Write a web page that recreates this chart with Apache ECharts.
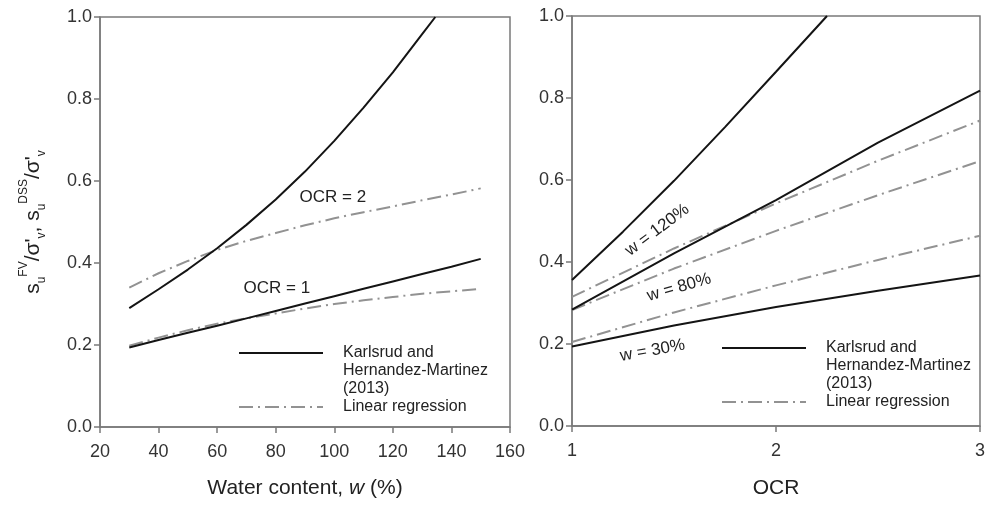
<!DOCTYPE html>
<html>
<head>
<meta charset="utf-8">
<script src="https://cdn.jsdelivr.net/npm/echarts@6/dist/echarts.min.js"></script>
<style>
  html, body { margin: 0; padding: 0; background: #fff; }
  #chart { width: 988px; height: 508px; }
</style>
</head>
<body>
<div id="chart"></div>
<script>
// left panel: water content w (%)
const wLeft = [30, 40, 50, 60, 70, 80, 90, 100, 110, 120, 130, 140, 150];
const khOcr1 = [0.194, 0.212, 0.230, 0.247, 0.265, 0.283, 0.301, 0.319, 0.337, 0.355, 0.373, 0.391, 0.410];
const regOcr1 = [0.198, 0.218, 0.236, 0.252, 0.265, 0.277, 0.289, 0.300, 0.309, 0.317, 0.325, 0.331, 0.337];
const regOcr2 = [0.340, 0.375, 0.405, 0.432, 0.454, 0.473, 0.492, 0.509, 0.524, 0.538, 0.553, 0.567, 0.582];
const wLeftOcr2 = [30, 40, 50, 60, 70, 80, 90, 100, 110, 120, 130, 134.5];
const khOcr2 = [0.290, 0.336, 0.384, 0.436, 0.493, 0.555, 0.623, 0.698, 0.779, 0.865, 0.958, 1.0];

// right panel: OCR
const ocrPts = [1, 1.5, 2, 2.5, 3];
const khW30 = [0.194, 0.245, 0.290, 0.330, 0.367];
const khW80 = [0.284, 0.421, 0.551, 0.691, 0.818];
const ocrPtsW120 = [1, 1.25, 1.5, 1.75, 2, 2.25];
const khW120 = [0.356, 0.474, 0.598, 0.729, 0.864, 1.0];
const regW120 = [0.315, 0.433, 0.543, 0.647, 0.745];
const regW80 = [0.283, 0.384, 0.476, 0.563, 0.646];
const regW30 = [0.205, 0.277, 0.343, 0.405, 0.464];

const solidName = "Karlsrud and\nHernandez-Martinez\n(2013)";
const dashName = "Linear regression";

const axisGray = "#7a7a7a";
const solidColor = "#141414";
const dashColor = "#929292";
const dashPattern = [14, 5, 2, 5];
const font = "Liberation Sans, Arial, sans-serif";

const pairs = (xs, ys) => xs.map((x, i) => [x, ys[i]]);

// text label on a curve, placed in data coords
const curveLabel = (text, coord, rotate) => ({
  symbol: "circle",
  symbolSize: 1,
  itemStyle: { color: "rgba(0,0,0,0)" },
  label: {
    show: true, position: "inside", formatter: text, rotate: rotate || 0,
    color: "#222", fontSize: 17, fontFamily: font
  },
  data: [{ coord: coord }]
});

const solid = (xi, yi, data, mark) => ({
  name: solidName, type: "line", xAxisIndex: xi, yAxisIndex: yi,
  data: data, symbol: "none", smooth: false,
  lineStyle: { color: solidColor, width: 2 }, itemStyle: { color: solidColor },
  markPoint: mark, z: 3
});
const dashed = (xi, yi, data) => ({
  name: dashName, type: "line", xAxisIndex: xi, yAxisIndex: yi,
  data: data, symbol: "none", smooth: false,
  lineStyle: { color: dashColor, width: 2, type: dashPattern },
  itemStyle: { color: dashColor }, z: 2
});

const axisCommon = {
  axisLine: { show: true, lineStyle: { color: axisGray, width: 1.5 } },
  axisTick: { show: true, inside: false, length: 6, lineStyle: { color: axisGray, width: 1.5 } },
  splitLine: { show: false },
  axisLabel: { color: "#333", fontSize: 18, fontFamily: font }
};

const legendCommon = {
  orient: "vertical", itemWidth: 84, itemHeight: 14, padding: 0, itemGap: 0,
  selectedMode: false, itemStyle: { opacity: 0 }
};
const legendText = { fontSize: 16, fontFamily: font, color: "#222", lineHeight: 18, padding: [0, 0, 0, 15] };

const yName = "{m|s}{sb|u}{sp|FV}{m|/σ'}{sb|v}{m|, s}{sb|u}{sp|DSS}{m|/σ'}{sb|v}";

const option = {
  animation: false,
  backgroundColor: "#fff",
  grid: [
    { left: 100, top: 17, width: 410, height: 410, show: true, borderColor: axisGray, borderWidth: 1.5 },
    { left: 572, top: 16, width: 410, height: 410, show: true, borderColor: axisGray, borderWidth: 1.5 }
  ],
  xAxis: [
    Object.assign({}, axisCommon, {
      gridIndex: 0, type: "value", min: 20, max: 160, interval: 20,
      name: "{a|Water content, }{i|w}{a| (%)}", nameLocation: "middle", nameGap: 51,
      nameTextStyle: { rich: {
        a: { fontSize: 21, fontFamily: font, color: "#222" },
        i: { fontSize: 21, fontFamily: font, color: "#222", fontStyle: "italic" }
      } },
      axisLabel: Object.assign({}, axisCommon.axisLabel, { margin: 16 })
    }),
    Object.assign({}, axisCommon, {
      gridIndex: 1, type: "value", min: 1, max: 3, interval: 1,
      name: "OCR", nameLocation: "middle", nameGap: 52,
      nameTextStyle: { fontSize: 21, fontFamily: font, color: "#222" },
      axisLabel: Object.assign({}, axisCommon.axisLabel, { margin: 16 })
    })
  ],
  yAxis: [
    Object.assign({}, axisCommon, {
      gridIndex: 0, type: "value", min: 0, max: 1, interval: 0.2,
      name: yName, nameLocation: "middle", nameGap: 52,
      nameTextStyle: { rich: {
        m: { fontSize: 21, fontFamily: font, color: "#222", lineHeight: 30, verticalAlign: "middle" },
        sb: { fontSize: 12, fontFamily: font, color: "#222", lineHeight: 12, verticalAlign: "bottom" },
        sp: { fontSize: 12, fontFamily: font, color: "#222", lineHeight: 12, verticalAlign: "top" }
      } },
      axisLabel: Object.assign({}, axisCommon.axisLabel, { margin: 8, formatter: (v) => v.toFixed(1) })
    }),
    Object.assign({}, axisCommon, {
      gridIndex: 1, type: "value", min: 0, max: 1, interval: 0.2,
      axisLabel: Object.assign({}, axisCommon.axisLabel, { margin: 8, formatter: (v) => v.toFixed(1) })
    })
  ],
  legend: [
    // leading blank lines put the icon level with the first text line
    Object.assign({}, legendCommon, { data: [solidName], left: 238, top: 308, textStyle: legendText, formatter: (n) => "\n\n" + n }),
    Object.assign({}, legendCommon, { data: [dashName], left: 238, top: 398, textStyle: legendText }),
    Object.assign({}, legendCommon, { data: [solidName], left: 721, top: 303, textStyle: legendText, formatter: (n) => "\n\n" + n }),
    Object.assign({}, legendCommon, { data: [dashName], left: 721, top: 393, textStyle: legendText })
  ],
  series: [
    solid(0, 0, pairs(wLeft, khOcr1), curveLabel("OCR = 1", [80.4, 0.339])),
    solid(0, 0, pairs(wLeftOcr2, khOcr2), curveLabel("OCR = 2", [99.5, 0.559])),
    dashed(0, 0, pairs(wLeft, regOcr1)),
    dashed(0, 0, pairs(wLeft, regOcr2)),
    solid(1, 1, pairs(ocrPts, khW30), curveLabel("w = 30%", [1.395, 0.184], 10)),
    solid(1, 1, pairs(ocrPts, khW80), curveLabel("w = 80%", [1.525, 0.338], 16)),
    solid(1, 1, pairs(ocrPtsW120, khW120), curveLabel("w = 120%", [1.418, 0.478], 37)),
    dashed(1, 1, pairs(ocrPts, regW30)),
    dashed(1, 1, pairs(ocrPts, regW80)),
    dashed(1, 1, pairs(ocrPts, regW120))
  ]
};

const myChart = echarts.init(document.getElementById("chart"));
myChart.setOption(option);
</script>
</body>
</html>
